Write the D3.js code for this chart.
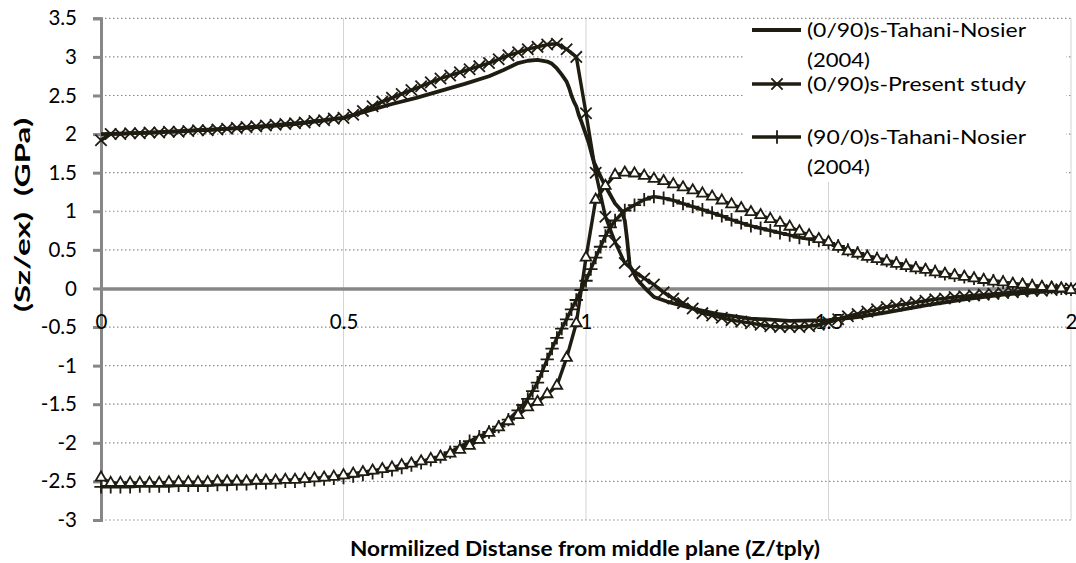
<!DOCTYPE html>
<html>
<head>
<meta charset="utf-8">
<script src="https://cdnjs.cloudflare.com/ajax/libs/d3/7.8.5/d3.min.js"></script>
<style>
  body { margin: 0; background: #fff; }
  svg text { font-family: Lato, "Open Sans", sans-serif; fill: #000; }
</style>
</head>
<body>
<div id="chart"></div>
<script>
// ---- data ----
const yTicks = [-3, -2.5, -2, -1.5, -1, -0.5, 0, 0.5, 1, 1.5, 2, 2.5, 3, 3.5];
const xTicks = [0, 0.5, 1, 1.5, 2];

const zCommon = [0, 0.02, 0.04, 0.06, 0.08, 0.1, 0.12, 0.14, 0.16, 0.18, 0.2, 0.22, 0.24, 0.26, 0.28, 0.3,
  0.32, 0.34, 0.36, 0.38, 0.4, 0.42, 0.44, 0.46, 0.48, 0.5, 0.52, 0.54, 0.56, 0.58, 0.6, 0.62, 0.64, 0.66,
  0.68, 0.7, 0.72, 0.74, 0.76, 0.78, 0.8, 0.82, 0.84, 0.86, 0.88, 0.9, 0.92, 0.94, 0.96, 0.98, 1, 1.02,
  1.04, 1.06, 1.08, 1.1, 1.12, 1.14, 1.16, 1.18, 1.2, 1.22, 1.24, 1.26, 1.28, 1.3, 1.32, 1.34, 1.36, 1.38,
  1.4, 1.42, 1.44, 1.46, 1.48, 1.5, 1.52, 1.54, 1.56, 1.58, 1.6, 1.62, 1.64, 1.66, 1.68, 1.7, 1.72, 1.74,
  1.76, 1.78, 1.8, 1.82, 1.84, 1.86, 1.88, 1.9, 1.92, 1.94, 1.96, 1.98, 2];

// (0/90)s - Present study (x markers)
const present090 = [1.92, 2.00, 2.00, 2.01, 2.01, 2.02, 2.02, 2.03, 2.03, 2.04, 2.05, 2.05, 2.06, 2.07, 2.08,
  2.09, 2.10, 2.11, 2.12, 2.13, 2.14, 2.15, 2.17, 2.18, 2.20, 2.21, 2.25, 2.30, 2.36, 2.42, 2.47, 2.52, 2.57,
  2.62, 2.67, 2.72, 2.76, 2.80, 2.84, 2.88, 2.92, 2.97, 3.02, 3.06, 3.10, 3.13, 3.16, 3.17, 3.10, 3.00, 2.27,
  1.50, 0.93, 0.60, 0.33, 0.22, 0.13, 0.05, -0.05, -0.13, -0.19, -0.26, -0.32, -0.35, -0.38, -0.41, -0.43,
  -0.45, -0.47, -0.49, -0.50, -0.50, -0.50, -0.49, -0.47, -0.44, -0.40, -0.36, -0.33, -0.30, -0.27, -0.24,
  -0.22, -0.20, -0.18, -0.16, -0.14, -0.13, -0.11, -0.10, -0.09, -0.08, -0.07, -0.06, -0.05, -0.04, -0.03,
  -0.03, -0.02, -0.01, 0.00];

// (90/0)s - Present study (triangle markers, not in visible legend)
const present900 = [-2.45, -2.52, -2.52, -2.52, -2.52, -2.52, -2.52, -2.51, -2.51, -2.51, -2.51, -2.51, -2.50,
  -2.50, -2.50, -2.50, -2.49, -2.49, -2.49, -2.48, -2.48, -2.47, -2.46, -2.45, -2.44, -2.42, -2.40, -2.38,
  -2.36, -2.34, -2.32, -2.29, -2.27, -2.24, -2.21, -2.18, -2.14, -2.09, -2.04, -1.96, -1.87, -1.80, -1.72,
  -1.64, -1.54, -1.47, -1.37, -1.26, -0.90, -0.45, 0.40, 1.15, 1.33, 1.47, 1.50, 1.49, 1.46, 1.42, 1.39,
  1.35, 1.31, 1.27, 1.23, 1.19, 1.14, 1.09, 1.04, 0.99, 0.95, 0.90, 0.85, 0.80, 0.74, 0.69, 0.64, 0.60, 0.54,
  0.48, 0.45, 0.41, 0.38, 0.35, 0.32, 0.29, 0.26, 0.24, 0.21, 0.19, 0.17, 0.15, 0.13, 0.11, 0.09, 0.08,
  0.06, 0.05, 0.03, 0.02, 0.01, 0.00, -0.02];

// (90/0)s - Tahani-Nosier (2004) (+ markers)
const zTahani900 = [0, 0.02, 0.04, 0.06, 0.08, 0.1, 0.12, 0.14, 0.16, 0.18, 0.2, 0.22, 0.24, 0.26, 0.28, 0.3,
  0.32, 0.34, 0.36, 0.38, 0.4, 0.42, 0.44, 0.46, 0.48, 0.5, 0.52, 0.54, 0.56, 0.58, 0.6, 0.62, 0.64, 0.66,
  0.68, 0.7, 0.72, 0.74, 0.76, 0.78, 0.8, 0.82, 0.84, 0.86, 0.87, 0.88, 0.89, 0.9, 0.91, 0.92, 0.93, 0.94,
  0.95, 0.96, 0.97, 0.98, 0.99, 1, 1.01, 1.02, 1.03, 1.04, 1.05, 1.06, 1.08, 1.1, 1.12, 1.14, 1.16, 1.18,
  1.2, 1.22, 1.24, 1.26, 1.28, 1.3, 1.32, 1.34, 1.36, 1.38, 1.4, 1.42, 1.44, 1.46, 1.48, 1.5, 1.52, 1.54,
  1.56, 1.58, 1.6, 1.62, 1.64, 1.66, 1.68, 1.7, 1.72, 1.74, 1.76, 1.78, 1.8, 1.82, 1.84, 1.86, 1.88, 1.9,
  1.92, 1.94, 1.96, 1.98, 2];
const tahani900 = [-2.57, -2.57, -2.57, -2.57, -2.56, -2.56, -2.56, -2.56, -2.55, -2.55, -2.55, -2.55, -2.54,
  -2.54, -2.53, -2.53, -2.52, -2.52, -2.51, -2.50, -2.50, -2.49, -2.48, -2.47, -2.46, -2.45, -2.43, -2.41,
  -2.39, -2.37, -2.35, -2.32, -2.29, -2.26, -2.22, -2.18, -2.12, -2.05, -1.98, -1.92, -1.86, -1.79, -1.70,
  -1.58, -1.51, -1.43, -1.33, -1.22, -1.07, -0.92, -0.78, -0.64, -0.52, -0.40, -0.27, -0.15, -0.02, 0.10,
  0.25, 0.40, 0.54, 0.68, 0.79, 0.88, 1.01, 1.08, 1.15, 1.19, 1.17, 1.14, 1.10, 1.06, 1.02, 0.98, 0.94,
  0.89, 0.85, 0.81, 0.78, 0.75, 0.72, 0.69, 0.66, 0.64, 0.62, 0.59, 0.55, 0.50, 0.46, 0.42, 0.39, 0.36,
  0.33, 0.30, 0.27, 0.24, 0.22, 0.19, 0.17, 0.15, 0.13, 0.11, 0.10, 0.08, 0.06, 0.05, 0.04, 0.02, 0.01,
  0.00, -0.01];

// (0/90)s - Tahani-Nosier (2004) (plain line)
const zTahani090 = [0, 0.1, 0.2, 0.3, 0.4, 0.5, 0.55, 0.6, 0.65, 0.7, 0.75, 0.8, 0.83, 0.86, 0.88, 0.9, 0.92,
  0.93, 0.94, 0.95, 0.96, 0.965, 0.97, 0.975, 0.98, 0.985, 0.99, 0.995, 1.005, 1.016, 1.037, 1.06, 1.073,
  1.08, 1.085, 1.09, 1.105, 1.125, 1.14, 1.167, 1.22, 1.27, 1.34, 1.42, 1.5, 1.56, 1.62, 1.7, 1.78, 1.86,
  1.94, 2];
const tahani090 = [2.00, 2.02, 2.05, 2.08, 2.13, 2.21, 2.30, 2.39, 2.47, 2.56, 2.65, 2.75, 2.83, 2.92, 2.95,
  2.96, 2.94, 2.91, 2.85, 2.77, 2.68, 2.60, 2.50, 2.42, 2.36, 2.25, 2.17, 2.08, 1.90, 1.64, 1.36, 1.10,
  1.01, 0.88, 0.62, 0.30, 0.12, -0.02, -0.11, -0.17, -0.26, -0.33, -0.39, -0.42, -0.41, -0.37, -0.31,
  -0.22, -0.14, -0.08, -0.04, -0.02];

const legendLabels = [
  ["(0/90)s-Tahani-Nosier", "(2004)"],
  ["(0/90)s-Present study"],
  ["(90/0)s-Tahani-Nosier", "(2004)"]
];

// ---- drawing ----
const W = 1076, H = 563;
const ink = "#1f1c12", axisGray = "#878787";

const svg = d3.select("#chart").append("svg").attr("width", W).attr("height", H);

const x = d3.scaleLinear().domain([0, 2]).range([101, 1071]);
const y = d3.scaleLinear().domain([-3, 3.5]).range([520, 18.3]);

// vertical gridlines
svg.append("g").selectAll("line").data(xTicks.slice(1)).join("line")
  .attr("x1", d => x(d)).attr("x2", d => x(d))
  .attr("y1", y(3.5)).attr("y2", y(-3))
  .attr("stroke", "#d4d4d4").attr("stroke-width", 1);

// horizontal gridlines (dotted)
svg.append("g").selectAll("line").data(yTicks.filter(d => d !== 0)).join("line")
  .attr("x1", x(0)).attr("x2", x(2))
  .attr("y1", d => y(d)).attr("y2", d => y(d))
  .attr("stroke", "#8f8f8f").attr("stroke-width", 1.2).attr("stroke-dasharray", "1.5,2.5");

// y axis
const yAxis = svg.append("g").attr("transform", `translate(${x(0)},0)`)
  .call(d3.axisLeft(y).tickValues(yTicks).tickSize(8).tickPadding(16).tickFormat(d => String(d)));
yAxis.select(".domain").attr("stroke", axisGray).attr("stroke-width", 3);
yAxis.selectAll(".tick line").attr("stroke", axisGray).attr("stroke-width", 3);
yAxis.selectAll(".tick text").attr("font-size", 20.5).attr("font-family", "Lato");

// x axis on zero line
const xAxis = svg.append("g").attr("transform", `translate(0,${y(0)})`)
  .call(d3.axisBottom(x).tickValues(xTicks).tickSize(0).tickPadding(26).tickFormat(d => String(d)));
xAxis.select(".domain").attr("stroke", axisGray).attr("stroke-width", 3.5);
xAxis.selectAll(".tick text").attr("font-size", 20.5).attr("font-family", "Lato");

// series
const line = d3.line().x(d => x(d[0])).y(d => y(d[1]));
const pairs = (zs, vs) => zs.map((z, i) => [z, vs[i]]);

const series = [
  {data: pairs(zTahani090, tahani090), symbol: null, width: 3.8},
  {data: pairs(zCommon, present090), symbol: d3.symbol(d3.symbolTimes, 85), width: 3.4},
  {data: pairs(zTahani900, tahani900), symbol: d3.symbol(d3.symbolPlus, 60), width: 3.4},
  {data: pairs(zCommon, present900), symbol: d3.symbol(d3.symbolTriangle2, 80), width: 3.4, fill: "#fff"}
];

series.forEach(s => {
  const g = svg.append("g");
  g.append("path").attr("d", line(s.data))
    .attr("fill", "none").attr("stroke", ink).attr("stroke-width", s.width)
    .attr("stroke-linejoin", "round");
  if (s.symbol) {
    g.selectAll("path.m").data(s.data).join("path").attr("class", "m")
      .attr("transform", d => `translate(${x(d[0])},${y(d[1])})`)
      .attr("d", s.symbol)
      .attr("fill", s.fill || "none").attr("stroke", ink).attr("stroke-width", 1.8);
  }
});

// legend
const lg = svg.append("g");
lg.append("rect").attr("x", 745).attr("y", 20).attr("width", 321).attr("height", 162).attr("fill", "#fff");
const legendRows = [30, 84, 137];
const legendSymbols = [null, d3.symbol(d3.symbolTimes, 85), d3.symbol(d3.symbolPlus, 60)];
legendLabels.forEach((lines, i) => {
  const cy = legendRows[i];
  lg.append("line").attr("x1", 752).attr("x2", 801).attr("y1", cy).attr("y2", cy)
    .attr("stroke", ink).attr("stroke-width", i === 0 ? 3.8 : 3.4);
  if (legendSymbols[i]) {
    lg.append("path").attr("transform", `translate(777,${cy})`).attr("d", legendSymbols[i])
      .attr("fill", "none").attr("stroke", ink).attr("stroke-width", 1.8);
  }
  lines.forEach((t, j) => {
    lg.append("text").attr("x", 807).attr("y", cy + 7 + j * 30)
      .attr("font-size", 20)
      .attr("textLength", t === "(2004)" ? 63 : 219).attr("lengthAdjust", "spacingAndGlyphs")
      .text(t);
  });
});

// axis titles
svg.append("text").attr("x", 585).attr("y", 556).attr("text-anchor", "middle")
  .attr("font-size", 20.5).attr("font-weight", "bold")
  .attr("textLength", 470).attr("lengthAdjust", "spacingAndGlyphs")
  .text("Normilized Distanse from middle plane (Z/tply)");

svg.append("text").attr("transform", "translate(30,215) rotate(-90)").attr("text-anchor", "middle")
  .attr("font-size", 20.5).attr("font-weight", "bold")
  .attr("textLength", 194).attr("lengthAdjust", "spacingAndGlyphs")
  .attr("xml:space", "preserve")
  .text("(Sz/ex)  (GPa)");
</script>
</body>
</html>
